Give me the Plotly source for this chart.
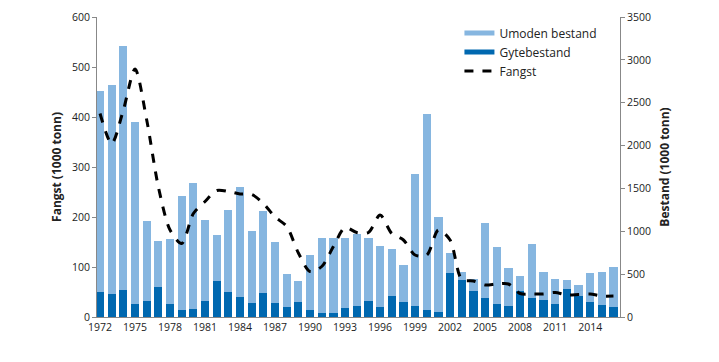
import plotly.graph_objects as go

years = list(range(1972, 2017))
gytebestand = [288, 268, 319, 156, 191, 346, 152, 86, 97, 187, 424, 288, 233, 163, 280,
               160, 120, 171, 82, 47, 47, 109, 132, 191, 120, 249, 175, 132, 82, 54,
               510, 435, 303, 225, 152, 125, 303, 218, 202, 148, 323, 249, 175, 136, 120]
totalbestand = [2637, 2703, 3166, 2279, 1120, 890, 906, 1412, 1567, 1128, 953, 1248, 1517, 1000, 1233,
                879, 502, 420, 727, 922, 922, 922, 968, 918, 825, 790, 607, 1668, 2365, 1170,
                750, 529, 443, 1093, 817, 575, 475, 855, 525, 447, 432, 370, 517, 525, 580]
umoden = [t - g for t, g in zip(totalbestand, gytebestand)]
fangst = [407, 347, 414, 496, 394, 260, 174, 147, 207, 231, 253, 251, 246, 245, 227,
          200, 181, 128, 91, 101, 141, 179, 169, 169, 204, 167, 154, 124, 124, 174,
          154, 75, 72, 64, 66, 66, 47, 46, 46, 49, 44, 45, 46, 42, 42]

LIGHT = "#86B6E0"
DARK = "#0068B0"
FONT = "Open Sans"

fig = go.Figure()
fig.add_trace(go.Bar(x=years, y=gytebestand, marker=dict(color=DARK, line=dict(width=0)),
                     yaxis="y", showlegend=False, name="Gytebestand"))
fig.add_trace(go.Bar(x=years, y=umoden, marker=dict(color=LIGHT, line=dict(width=0)),
                     yaxis="y", showlegend=False, name="Umoden bestand"))
fig.add_trace(go.Scatter(x=years, y=fangst, mode="lines", yaxis="y2", showlegend=False,
                         line=dict(color="black", width=3, dash="dash", shape="spline", smoothing=0.8),
                         name="Fangst"))
# legend entries
fig.add_trace(go.Scatter(x=[None], y=[None], mode="lines", name="Umoden bestand",
                         line=dict(color=LIGHT, width=5), yaxis="y"))
fig.add_trace(go.Scatter(x=[None], y=[None], mode="lines", name="Gytebestand",
                         line=dict(color=DARK, width=5), yaxis="y"))
fig.add_trace(go.Scatter(x=[None], y=[None], mode="lines", name="Fangst",
                         line=dict(color="black", width=3, dash="dash"), yaxis="y"))

fig.update_layout(
    width=703, height=346,
    margin=dict(l=89, r=91, t=9, b=37, autoexpand=False),
    paper_bgcolor="white", plot_bgcolor="white",
    barmode="stack", bargap=0.3,
    font=dict(family=FONT, size=10, color="#222"),
    xaxis=dict(range=[1971.74, 2016.56], tickmode="array", automargin=False,
               tickvals=list(range(1972, 2017, 3)), ticks="", showline=True,
               linecolor="#888", linewidth=1, showgrid=False, zeroline=False,
               tickfont=dict(size=10.5)),
    yaxis=dict(range=[0, 3500], side="right", tickvals=list(range(0, 3501, 500)),
               automargin=False, tickfont=dict(size=10.5),
               ticks="outside", ticklen=4, tickcolor="#888", showline=True,
               linecolor="#888", linewidth=1, showgrid=False, zeroline=False,
               title=dict(text="<b>Bestand (1000 tonn)</b>", font=dict(size=12), standoff=10)),
    yaxis2=dict(range=[0, 600], side="left", overlaying="y", tickvals=list(range(0, 601, 100)),
                automargin=False, tickfont=dict(size=10.5),
                ticks="outside", ticklen=4, tickcolor="#888", showline=True,
                linecolor="#888", linewidth=1, showgrid=False, zeroline=False,
                title=dict(text="<b>Fangst (1000 tonn)</b>", font=dict(size=12), standoff=7)),
    legend=dict(x=0.693, y=0.995, xanchor="left", yanchor="top", bgcolor="rgba(0,0,0,0)",
                traceorder="normal",
                font=dict(size=12), tracegroupgap=0, itemwidth=30),
)

fig.write_html("out.html")
